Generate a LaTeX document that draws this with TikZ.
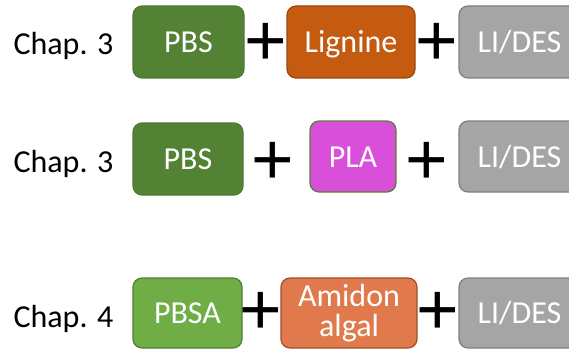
\documentclass[tikz,border=0pt]{standalone}
\usepackage{fontspec}
\setmainfont{Carlito}
\newfontfamily\plusfont{Liberation Sans}
\definecolor{pbsgreen}{HTML}{548235}
\definecolor{pbsborder}{HTML}{4E7A31}
\definecolor{pbsagreen}{HTML}{70AD47}
\definecolor{pbsaborder}{HTML}{507E32}
\definecolor{ligfill}{HTML}{C55A11}
\definecolor{ligborder}{HTML}{9C470D}
\definecolor{plafill}{HTML}{D94FD9}
\definecolor{plaborder}{HTML}{548235}
\definecolor{grayfill}{HTML}{A5A5A5}
\definecolor{grayborder}{HTML}{7F7F7F}
\definecolor{amifill}{HTML}{E07A4D}
\definecolor{amiborder}{HTML}{A04E2A}
\begin{document}
\begin{tikzpicture}[x=1pt,y=-1pt,
  box/.style={rectangle, rounded corners=9pt, line width=1.2pt, text=white,
    font=\fontsize{32}{31}\selectfont, text height=21pt, text depth=0pt,
    inner sep=0pt, minimum height=72pt},
  plussign/.style={font=\plusfont\fontsize{73}{73}\selectfont, inner sep=0pt, text=black},
  chap/.style={font=\fontsize{32}{38}\selectfont, anchor=base, inner sep=0pt, text=black}]
\useasboundingbox (0,0) rectangle (569,350);
\clip (0,0) rectangle (569,350);
% Row 1
\node[chap] (c1) at (63.5,55) {Chap. 3};
\node[box, fill=pbsgreen, draw=pbsborder, minimum width=111pt] (pbs1) at (188.5,42) {PBS};
\node[plussign] (p11) at (266,44) {+};
\node[box, fill=ligfill, draw=ligborder, minimum width=128pt] (lig) at (351,42) {Lignine};
\node[plussign] (p12) at (437,44) {+};
\node[box, fill=grayfill, draw=grayborder, minimum width=121pt] (li1) at (519.5,42) {LI/DES};
% Row 2
\node[chap] (c2) at (63.5,172) {Chap. 3};
\node[box, fill=pbsgreen, draw=pbsborder, minimum width=110pt] (pbs2) at (188,159) {PBS};
\node[plussign] (p21) at (273,163) {+};
\node[box, fill=plafill, draw=plaborder, minimum width=86pt, minimum height=71pt] (pla) at (353,156.5) {PLA};
\node[plussign] (p22) at (427,163) {+};
\node[box, fill=grayfill, draw=grayborder, minimum width=121pt, minimum height=71pt] (li2) at (519.5,156.5) {LI/DES};
% Row 3
\node[chap] (c3) at (63.5,327) {Chap. 4};
\node[box, fill=pbsagreen, draw=pbsaborder, minimum width=109pt, minimum height=70pt] (pbsa) at (187.5,313) {PBSA};
\node[plussign] (p31) at (261,313) {+};
\node[box, fill=amifill, draw=amiborder, minimum width=136pt, minimum height=70pt, align=center, text height=, text depth=, font=\fontsize{32}{30}\selectfont] (ami) at (349,313) {Amidon\\algal};
\node[plussign] (p32) at (438,313) {+};
\node[box, fill=grayfill, draw=grayborder, minimum width=121pt, minimum height=70pt] (li3) at (519.5,313) {LI/DES};
\end{tikzpicture}
\end{document}
